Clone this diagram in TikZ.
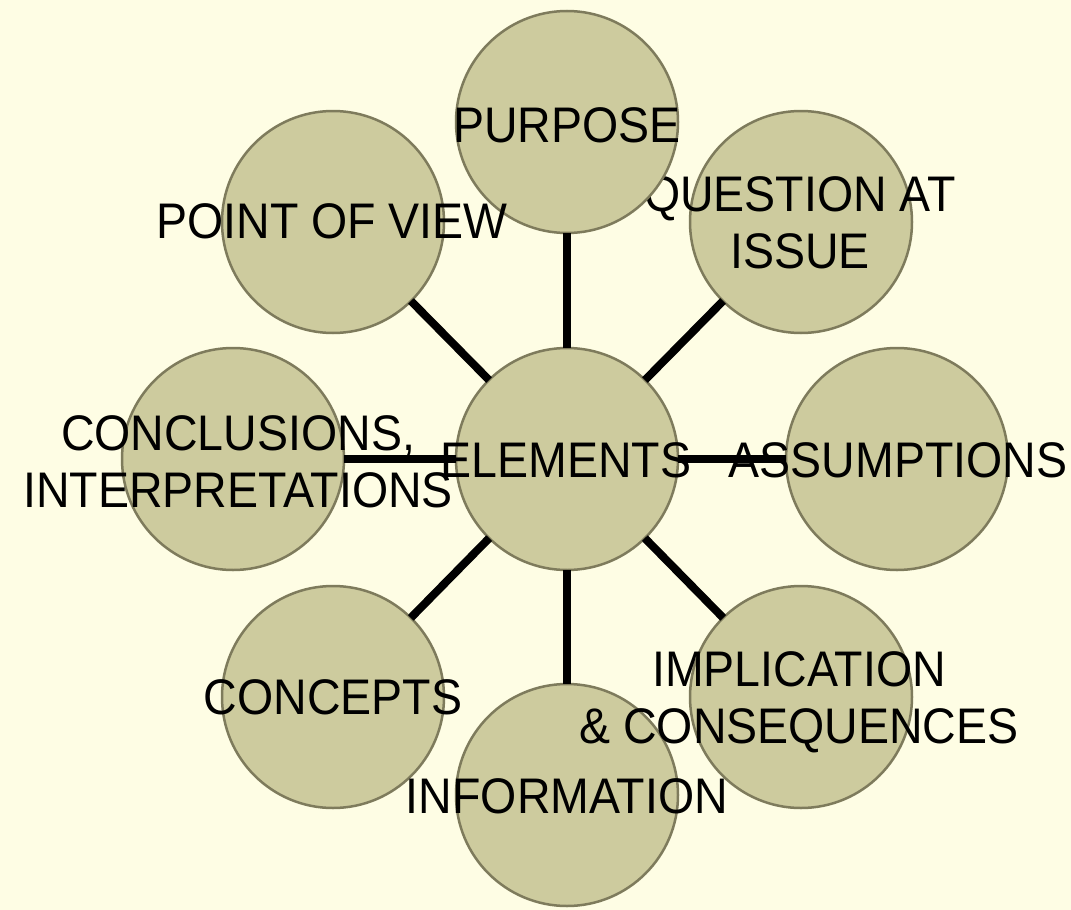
\documentclass[tikz,border=0pt]{standalone}
\usepackage{fontspec}
\setmainfont{Liberation Sans}
\newfontfamily\labfont[FakeStretch=0.93]{Liberation Sans}
\definecolor{bg}{HTML}{FEFDE4}
\definecolor{disk}{HTML}{CDCB9E}
\definecolor{rim}{HTML}{7E7B5C}
\begin{document}
\begin{tikzpicture}[x=1pt,y=-1pt,
  disc/.style={circle,fill=disk,draw=rim,line width=2.5pt,minimum size=222pt,inner sep=0pt,outer sep=0pt},
  lab/.style={font=\labfont\fontsize{50}{57}\selectfont,align=center,inner sep=0pt,anchor=base,text=black},
  link/.style={line width=8pt,draw=black}]
\fill[bg] (0,0) rectangle (1071,910);
\useasboundingbox (0,0) rectangle (1071,910);
% question circle first (its text is partly covered by PURPOSE)
\node[disc] (q) at (801,222) {};
\node[lab] (tq) at (800,268) {QUESTION AT\\ISSUE};
\node[disc] (p) at (567,122) {};
\node[disc] (v) at (333,222) {};
\node[disc] (c) at (233,459) {};
\node[disc] (e) at (567,459) {};
\node[disc] (a) at (897,459) {};
\node[disc] (k) at (333,697) {};
\node[disc] (i) at (567,795) {};
\node[disc] (m) at (801,697) {};
% connectors
\draw[link] (e) -- (p);
\draw[link] (e) -- (q);
\draw[link] (e) -- (a);
\draw[link] (e) -- (m);
\draw[link] (e) -- (i);
\draw[link] (e) -- (k);
\draw[link] (e) -- (c);
\draw[link] (e) -- (v);
% labels
\node[lab] (tp) at (567,142) {PURPOSE};
\node[lab] (tv) at (332,238) {POINT OF VIEW};
\node[lab] (tc) at (238,507) {CONCLUSIONS,\\INTERPRETATIONS};
\node[lab] (te) at (566,477) {ELEMENTS};
\node[lab] (ta) at (898,477) {ASSUMPTIONS};
\node[lab] (tk) at (333,714) {CONCEPTS};
\node[lab] (ti) at (567,813) {INFORMATION};
\node[lab] (tm) at (799,743) {IMPLICATION\\\&~CONSEQUENCES};
\end{tikzpicture}
\end{document}
